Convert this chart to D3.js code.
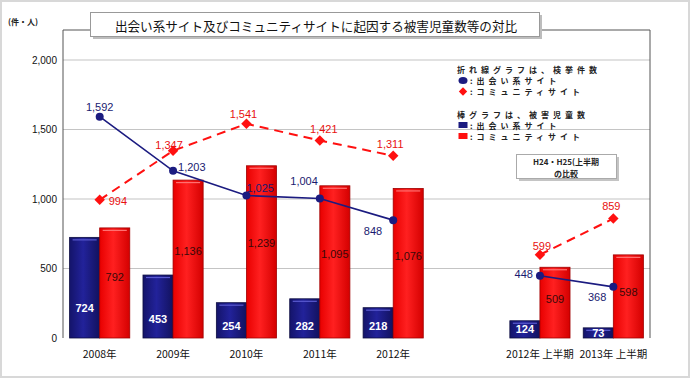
<!DOCTYPE html>
<html>
<head>
<meta charset="utf-8">
<script src="https://cdn.jsdelivr.net/npm/d3@7"></script>
<style>
  body { margin: 0; background: #fff; }
  svg { display: block; font-family: "Liberation Sans", "Noto Sans CJK JP", sans-serif; }
  .jp { font-family: "Noto Sans CJK JP", sans-serif; }
</style>
</head>
<body>
<script>
// data
const categories = ['2008年', '2009年', '2010年', '2011年', '2012年', '2012年 上半期', '2013年 上半期']
const deaiCases = [1592, 1203, 1025, 1004, 848, 448, 368]       // line, 出会い系
const commuCases = [994, 1347, 1541, 1421, 1311, 599, 859]      // line, コミュニティ
const deaiVictims = [724, 453, 254, 282, 218, 124, 73]          // bars
const commuVictims = [792, 1136, 1239, 1095, 1076, 509, 598]    // bars
const yTicks = [0, 500, 1000, 1500, 2000]

// label placement for the line values [anchor, dx, dy]
const deaiLabelPos = [['middle', 0, -10], ['start', 5, -4], ['start', 0, -8], ['end', -2, -17],
  ['end', -11, 11], ['end', -7, -2], ['end', -7, 10]]
const commuLabelPos = [['start', 9, 1], ['middle', -4, -6], ['middle', -3, -10], ['middle', 4, -11],
  ['middle', -3, -12], ['middle', 2, -9], ['middle', -2, -13]]

const WIDTH = 690
const HEIGHT = 378
const NAVY = '#1b1b80'
const RED = '#ff1010'

const svg = d3.select('body').append('svg')
  .attr('width', WIDTH)
  .attr('height', HEIGHT)

// outer border
svg.append('rect')
  .attr('x', 1).attr('y', 1).attr('width', WIDTH - 2).attr('height', HEIGHT - 2)
  .attr('fill', '#fff').attr('stroke', '#d8d8d8').attr('stroke-width', 2)

const plotLeft = 63, plotRight = 650, plotTop = 30, plotBottom = 338

// a blank slot between 2012年 and the half-year groups
const slots = [...categories.slice(0, 5), '_gap', ...categories.slice(5)]
const x = d3.scaleBand().domain(slots).range([plotLeft, plotRight]).paddingInner(0.18).paddingOuter(0.09)
const sub = d3.scaleBand().domain(['deai', 'commu']).range([0, x.bandwidth()])
const y = d3.scaleLinear().domain([0, 2000]).range([plotBottom, 60])
const cx = i => x(categories[i]) + x.bandwidth() / 2

const defs = svg.append('defs')
const gBlue = defs.append('linearGradient').attr('id', 'gBlue')
gBlue.append('stop').attr('offset', '0%').attr('stop-color', '#14146a')
gBlue.append('stop').attr('offset', '45%').attr('stop-color', '#22229a')
gBlue.append('stop').attr('offset', '100%').attr('stop-color', '#12125e')
const gRed = defs.append('linearGradient').attr('id', 'gRed')
gRed.append('stop').attr('offset', '0%').attr('stop-color', '#e80000')
gRed.append('stop').attr('offset', '45%').attr('stop-color', '#ff2020')
gRed.append('stop').attr('offset', '100%').attr('stop-color', '#d40000')

// gridlines
svg.append('g')
  .selectAll('line')
  .data(yTicks.filter(d => d > 0))
  .enter()
  .append('line')
  .attr('x1', plotLeft).attr('x2', plotRight)
  .attr('y1', d => y(d)).attr('y2', d => y(d))
  .attr('stroke', '#c4c4c4').attr('stroke-width', 1.2)

// frame
svg.append('path')
  .attr('d', `M${plotLeft},${plotBottom} V${plotTop} H90 M540,${plotTop} H${plotRight} V${plotBottom}`)
  .attr('fill', 'none').attr('stroke', '#555').attr('stroke-width', 1)

// y axis labels
const yAxis = svg.append('g')
  .attr('transform', `translate(${plotLeft},0)`)
  .call(d3.axisLeft(y).tickValues(yTicks).tickSize(0).tickPadding(6).tickFormat(d3.format(',')))
yAxis.select('.domain').remove()
yAxis.selectAll('text').attr('font-size', 10).attr('fill', '#111')
  .attr('font-family', '"Liberation Sans", sans-serif')

svg.append('text')
  .attr('class', 'jp')
  .attr('x', 8).attr('y', 25)
  .attr('font-size', 8).attr('font-weight', 'bold').attr('fill', '#222')
  .text('(件・人)')

// bars
const bars = svg.append('g')
categories.forEach((c, i) => {
  const g = bars.append('g').attr('transform', `translate(${x(c)},0)`)
  ;[['deai', deaiVictims[i], 'url(#gBlue)', '#0c0c40', '#5a5ad0'],
    ['commu', commuVictims[i], 'url(#gRed)', '#a00000', '#ff7070']].forEach(([k, v, fill, stroke, hl]) => {
    g.append('rect')
      .attr('x', sub(k)).attr('y', y(v))
      .attr('width', sub.bandwidth()).attr('height', plotBottom - y(v))
      .attr('fill', fill).attr('stroke', stroke).attr('stroke-width', 0.8)
    g.append('line')
      .attr('x1', sub(k) + 3).attr('x2', sub(k) + sub.bandwidth() - 3)
      .attr('y1', y(v) + 2.5).attr('y2', y(v) + 2.5)
      .attr('stroke', hl).attr('stroke-width', 1.2)
  })
})

// bar value labels
svg.append('g')
  .selectAll('text')
  .data(deaiVictims)
  .enter()
  .append('text')
  .attr('x', (d, i) => x(categories[i]) + sub('deai') + sub.bandwidth() / 2)
  .attr('y', d => {
    const h = plotBottom - y(d)
    return plotBottom - Math.max(h * 0.3, Math.min(h / 2, 12))
  })
  .attr('text-anchor', 'middle').attr('dominant-baseline', 'central')
  .attr('font-size', 11).attr('font-weight', 'bold').attr('fill', '#fff')
  .text(d => d3.format(',')(d))

svg.append('g')
  .selectAll('text')
  .data(commuVictims)
  .enter()
  .append('text')
  .attr('x', (d, i) => x(categories[i]) + sub('commu') + sub.bandwidth() / 2)
  .attr('y', d => y(d * 0.55))
  .attr('text-anchor', 'middle').attr('dominant-baseline', 'central')
  .attr('font-size', 11).attr('fill', '#3a0808')
  .text(d => d3.format(',')(d))

// lines, broken at the gap
const lineGen = d3.line()
  .defined((d, i) => i !== 5)
  .x(d => d[0]).y(d => d[1])
const withGap = arr => {
  const pts = arr.map((v, i) => [cx(i), y(v)])
  return [...pts.slice(0, 5), [0, 0], ...pts.slice(5)]
}

svg.append('path')
  .attr('d', lineGen(withGap(commuCases)))
  .attr('fill', 'none').attr('stroke', RED).attr('stroke-width', 2)
  .attr('stroke-dasharray', '9,6')

svg.append('path')
  .attr('d', lineGen(withGap(deaiCases)))
  .attr('fill', 'none').attr('stroke', NAVY).attr('stroke-width', 1.6)

svg.append('g')
  .selectAll('path')
  .data(commuCases)
  .enter()
  .append('path')
  .attr('d', d3.symbol(d3.symbolDiamond2, 70))
  .attr('transform', (d, i) => `translate(${cx(i)},${y(d)})`)
  .attr('fill', RED)

svg.append('g')
  .selectAll('circle')
  .data(deaiCases)
  .enter()
  .append('circle')
  .attr('cx', (d, i) => cx(i)).attr('cy', d => y(d))
  .attr('r', 4).attr('fill', NAVY)

// line value labels
const lineLabels = (arr, pos, color) => svg.append('g')
  .selectAll('text')
  .data(arr)
  .enter()
  .append('text')
  .attr('x', (d, i) => cx(i) + pos[i][1])
  .attr('y', (d, i) => y(d) + pos[i][2])
  .attr('text-anchor', (d, i) => pos[i][0])
  .attr('dominant-baseline', 'central')
  .attr('font-size', 11).attr('fill', color)
  .text(d => d3.format(',')(d))
lineLabels(commuCases, commuLabelPos, '#e81010')
lineLabels(deaiCases, deaiLabelPos, '#1a1a70')

// x labels
svg.append('g')
  .selectAll('text')
  .data(categories)
  .enter()
  .append('text')
  .attr('class', 'jp')
  .attr('x', (d, i) => cx(i))
  .attr('y', 353)
  .attr('text-anchor', 'middle').attr('dominant-baseline', 'central')
  .attr('font-size', 10.5).attr('fill', '#111')
  .text(d => d)

// title box
svg.append('rect')
  .attr('x', 93).attr('y', 15).attr('width', 449).attr('height', 24)
  .attr('fill', '#bdbdbd')
svg.append('rect')
  .attr('x', 90.5).attr('y', 12.5).attr('width', 449).attr('height', 24)
  .attr('fill', '#fff').attr('stroke', '#999').attr('stroke-width', 1)
svg.append('text')
  .attr('class', 'jp')
  .attr('x', 316).attr('y', 25)
  .attr('text-anchor', 'middle').attr('dominant-baseline', 'central')
  .attr('font-size', 12.6).attr('fill', '#111')
  .text('出会い系サイト及びコミュニティサイトに起因する被害児童数等の対比')

// legend
const legend = svg.append('g').attr('class', 'jp')
  .attr('font-size', 8).attr('font-weight', 'bold').attr('fill', '#222')
  .attr('letter-spacing', 4)
const legendRows = [
  [69.5, null, '折れ線グラフは、検挙件数'],
  [80.5, 'circle', ':出会い系サイト'],
  [91.5, 'diamond', ':コミュニティサイト'],
  [114, null, '棒グラフは、被害児童数'],
  [125, 'sqBlue', ':出会い系サイト'],
  [136, 'sqRed', ':コミュニティサイト'],
]
legendRows.forEach(([ly, mark, label]) => {
  legend.append('text')
    .attr('x', mark ? 470 : 457).attr('y', ly)
    .attr('dominant-baseline', 'central')
    .text(label)
  if (mark === 'circle') {
    legend.append('ellipse').attr('cx', 463).attr('cy', ly).attr('rx', 4.5).attr('ry', 3.5).attr('fill', NAVY)
  } else if (mark === 'diamond') {
    legend.append('path').attr('d', d3.symbol(d3.symbolDiamond2, 45))
      .attr('transform', `translate(463,${ly})`).attr('fill', RED)
  } else if (mark) {
    legend.append('rect').attr('x', 458.5).attr('y', ly - 3).attr('width', 9).attr('height', 6)
      .attr('fill', mark === 'sqBlue' ? NAVY : RED)
  }
})

// H24・H25 note box
svg.append('rect')
  .attr('x', 519).attr('y', 157).attr('width', 100).attr('height', 24).attr('fill', '#c4c4c4')
svg.append('rect')
  .attr('x', 516.5).attr('y', 154.5).attr('width', 100).attr('height', 24)
  .attr('fill', '#fff').attr('stroke', '#aaa')
const note = svg.append('g').attr('class', 'jp')
  .attr('font-size', 8).attr('font-weight', 'bold').attr('fill', '#222')
note.append('text').attr('x', 566).attr('y', 161.5).attr('text-anchor', 'middle')
  .attr('dominant-baseline', 'central').text('H24・H25(上半期')
note.append('text').attr('x', 566).attr('y', 173).attr('text-anchor', 'middle')
  .attr('dominant-baseline', 'central').text('の比較')
</script>
</body>
</html>
